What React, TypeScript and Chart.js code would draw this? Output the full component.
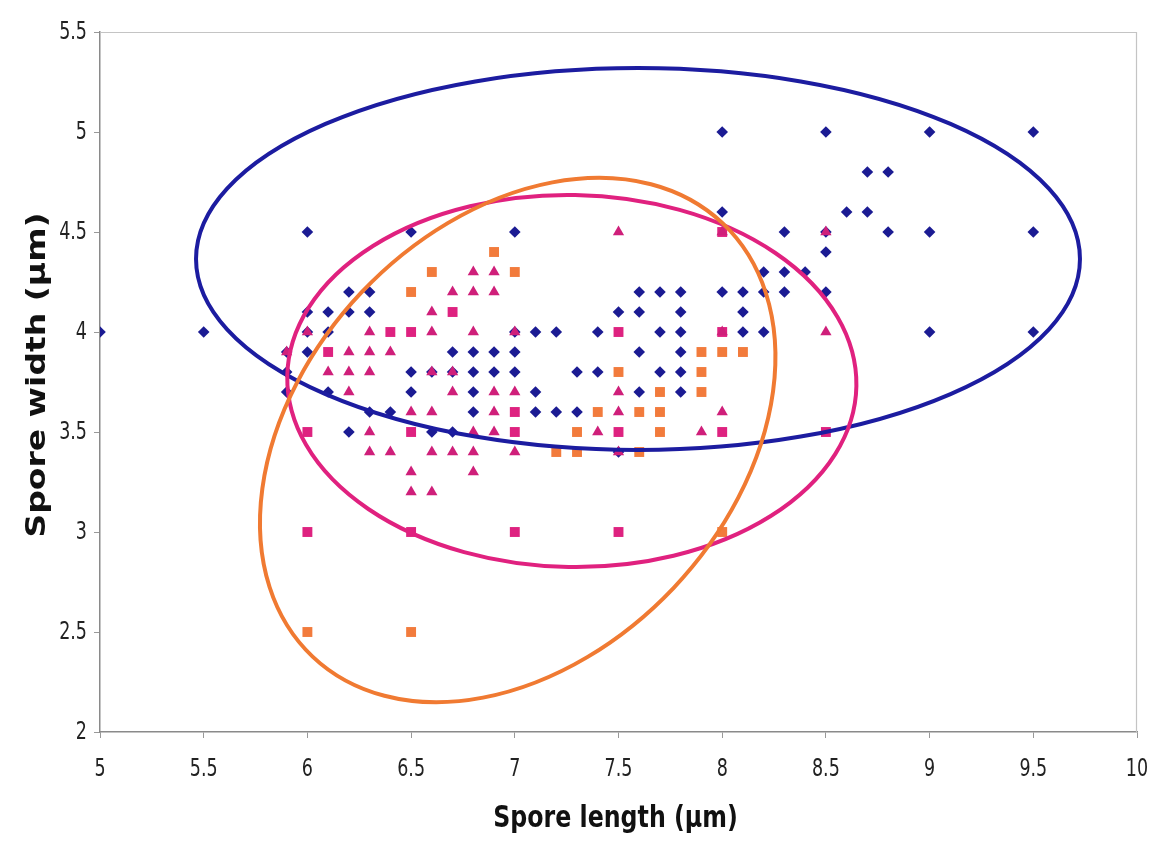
import React, { useEffect, useRef } from "react";
import { Chart, registerables } from "chart.js";

Chart.register(...registerables);

// ---- axis definitions ----
const xTickValues = [5, 5.5, 6, 6.5, 7, 7.5, 8, 8.5, 9, 9.5, 10];
const yTickValues = [2, 2.5, 3, 3.5, 4, 4.5, 5, 5.5];
const xTitle = "Spore length (\u03bcm)";
const yTitle = "Spore width (\u03bcm)";

// ---- series (x = length, y = width) ----
const blueDiamonds = [
  [5, 4], [5.5, 4], [6, 4.5], [6.5, 4.5], [7, 4.5],
  [6.2, 4.2], [6.3, 4.2], [6, 4.1], [6.1, 4.1], [6.2, 4.1], [6.3, 4.1],
  [6, 4], [6.1, 4], [5.9, 3.9], [6, 3.9], [5.9, 3.8], [5.9, 3.7], [6.1, 3.7],
  [6.3, 3.6], [6.4, 3.6], [6.2, 3.5],
  [7.6, 4.2], [7.7, 4.2], [7.8, 4.2], [8, 4.2], [7.5, 4.1], [7.6, 4.1], [7.8, 4.1],
  [7, 4], [7.1, 4], [7.2, 4], [7.4, 4], [7.7, 4], [7.8, 4],
  [6.7, 3.9], [6.8, 3.9], [6.9, 3.9], [7, 3.9], [7.6, 3.9], [7.8, 3.9],
  [6.5, 3.8], [6.6, 3.8], [6.7, 3.8], [6.8, 3.8], [6.9, 3.8], [7, 3.8], [7.3, 3.8], [7.4, 3.8], [7.7, 3.8], [7.8, 3.8],
  [6.5, 3.7], [6.8, 3.7], [7.1, 3.7], [7.6, 3.7], [7.8, 3.7],
  [6.8, 3.6], [7.1, 3.6], [7.2, 3.6], [7.3, 3.6],
  [6.6, 3.5], [6.7, 3.5], [7.5, 3.4],
  [8, 5], [8.5, 5], [9, 5], [9.5, 5], [8.7, 4.8], [8.8, 4.8],
  [8, 4.6], [8.6, 4.6], [8.7, 4.6],
  [8.3, 4.5], [8.5, 4.5], [8.8, 4.5], [9, 4.5], [9.5, 4.5], [8.5, 4.4],
  [8.2, 4.3], [8.3, 4.3], [8.4, 4.3],
  [8.1, 4.2], [8.2, 4.2], [8.3, 4.2], [8.5, 4.2], [8.1, 4.1],
  [8.1, 4], [8.2, 4], [9, 4], [9.5, 4],
];

const pinkTriangles = [
  [6, 4], [6.3, 4], [5.9, 3.9], [6.2, 3.9], [6.3, 3.9], [6.4, 3.9],
  [6.1, 3.8], [6.2, 3.8], [6.3, 3.8], [6.2, 3.7], [6.5, 3.6],
  [6.3, 3.5], [6.3, 3.4], [6.4, 3.4],
  [7.5, 4.5], [8, 4.5], [8.5, 4.5], [6.8, 4.3], [6.9, 4.3],
  [6.7, 4.2], [6.8, 4.2], [6.9, 4.2], [6.6, 4.1],
  [6.6, 4], [6.8, 4], [7, 4], [8, 4], [8.5, 4],
  [6.6, 3.8], [6.7, 3.8], [6.7, 3.7], [6.9, 3.7], [7, 3.7], [7.5, 3.7],
  [6.6, 3.6], [6.9, 3.6], [7.5, 3.6], [8, 3.6],
  [6.8, 3.5], [6.9, 3.5], [7.4, 3.5], [7.9, 3.5],
  [6.6, 3.4], [6.7, 3.4], [6.8, 3.4], [7, 3.4], [7.5, 3.4],
  [6.5, 3.3], [6.8, 3.3], [6.5, 3.2], [6.6, 3.2],
];

const pinkSquares = [
  [6.1, 3.9], [6.4, 4], [6.5, 4], [6, 3.5], [6.5, 3.5], [6.7, 4.1],
  [7, 3.6], [7, 3.5], [7.5, 4], [7.5, 3.5], [8, 3.5], [8.5, 3.5],
  [6, 3], [6.5, 3], [7, 3], [7.5, 3], [8, 4.5], [8, 4],
];

const orangeSquares = [
  [6.9, 4.4], [6.6, 4.3], [7, 4.3], [6.5, 4.2],
  [7.9, 3.9], [8, 3.9], [8.1, 3.9], [7.5, 3.8], [7.9, 3.8],
  [7.7, 3.7], [7.9, 3.7], [7.4, 3.6], [7.6, 3.6], [7.7, 3.6],
  [7.3, 3.5], [7.7, 3.5], [7.2, 3.4], [7.3, 3.4], [7.6, 3.4],
  [8, 3], [6, 2.5], [6.5, 2.5],
];

// ---- ellipses: centre, end of major semi-axis, end of minor semi-axis (data units) ----
const ellipseCenters = [[7.594, 4.365], [7.275, 3.755], [7.014, 3.46]];
const ellipseMajorEnds = [[9.725, 4.365], [8.647, 3.73], [8.003, 4.543]];
const ellipseMinorEnds = [[7.594, 5.32], [7.26, 4.685], [6.261, 4.198]];

// ---- styles ----
const ellipseColors = ["#1c1ca0", "#e0217f", "#f07a32"];
const BLUE = "#1b1b93";
const PINK_TRI = "#cf1f7a";
const PINK_SQ = "#de2280";
const ORANGE = "#f27b3c";
const FONT = "'DejaVu Sans', Verdana, sans-serif";

const toPts = (arr: number[][]) => arr.map(([x, y]) => ({ x, y }));

const decorPlugin = {
  id: "decor",
  beforeDatasetsDraw(chart: any) {
    const { ctx, chartArea: a } = chart;
    ctx.save();
    ctx.strokeStyle = "#c4c4c4";
    ctx.lineWidth = 1.2;
    ctx.beginPath();
    ctx.moveTo(a.left, a.top + 0.5);
    ctx.lineTo(a.right - 0.5, a.top + 0.5);
    ctx.lineTo(a.right - 0.5, a.bottom);
    ctx.stroke();
    ctx.restore();
  },
  afterDatasetsDraw(chart: any) {
    const { ctx, chartArea: a, scales } = chart;
    const xs = scales.x;
    const ys = scales.y;
    ctx.save();
    ctx.beginPath();
    ctx.rect(a.left, a.top, a.right - a.left, a.bottom - a.top);
    ctx.clip();
    ellipseCenters.forEach((c, i) => {
      const cx = xs.getPixelForValue(c[0]);
      const cy = ys.getPixelForValue(c[1]);
      const mx = xs.getPixelForValue(ellipseMajorEnds[i][0]);
      const my = ys.getPixelForValue(ellipseMajorEnds[i][1]);
      const nx = xs.getPixelForValue(ellipseMinorEnds[i][0]);
      const ny = ys.getPixelForValue(ellipseMinorEnds[i][1]);
      const rot = Math.atan2(my - cy, mx - cx);
      const r1 = Math.hypot(mx - cx, my - cy);
      const r2 = Math.hypot(nx - cx, ny - cy);
      ctx.beginPath();
      ctx.ellipse(cx, cy, r1, r2, rot, 0, Math.PI * 2);
      ctx.strokeStyle = ellipseColors[i];
      ctx.lineWidth = 4;
      ctx.stroke();
    });
    ctx.restore();
  },
  afterDraw(chart: any) {
    const { ctx, chartArea: a, scales } = chart;
    const xs = scales.x;
    const ys = scales.y;
    ctx.save();
    // tick labels (condensed, as in the reference)
    ctx.fillStyle = "#222";
    ctx.font = "25px " + FONT;
    ctx.textBaseline = "middle";
    ctx.textAlign = "center";
    xTickValues.forEach((v) => {
      ctx.save();
      ctx.translate(xs.getPixelForValue(v), a.bottom + 37);
      ctx.scale(0.7, 1);
      ctx.fillText(String(v), 0, 0);
      ctx.restore();
    });
    ctx.textAlign = "right";
    yTickValues.forEach((v) => {
      ctx.save();
      ctx.translate(a.left - 13, ys.getPixelForValue(v));
      ctx.scale(0.7, 1);
      ctx.fillText(String(v), 0, 0);
      ctx.restore();
    });
    // axis titles
    ctx.fillStyle = "#111";
    ctx.textAlign = "center";
    ctx.textBaseline = "alphabetic";
    ctx.save();
    ctx.font = "bold 30px " + FONT;
    ctx.translate((a.left + a.right) / 2 - 3, 827);
    ctx.scale(0.79, 1);
    ctx.fillText(xTitle, 0, 0);
    ctx.restore();
    ctx.save();
    ctx.font = "bold 33px " + FONT;
    ctx.translate(45, 375);
    ctx.scale(0.79, 1);
    ctx.rotate(-Math.PI / 2);
    ctx.fillText(yTitle, 0, 0);
    ctx.restore();
    ctx.restore();
  },
};

export default function App() {
  const ref = useRef<HTMLCanvasElement | null>(null);

  useEffect(() => {
    if (!ref.current) return;
    const chart = new Chart(ref.current, {
      type: "scatter",
      data: {
        datasets: [
          {
            label: "triangles",
            data: toPts(pinkTriangles),
            pointStyle: "triangle",
            pointRadius: 6.5,
            pointBackgroundColor: PINK_TRI,
            pointBorderColor: PINK_TRI,
            pointBorderWidth: 0,
            order: 0,
          },
          {
            label: "pink squares",
            data: toPts(pinkSquares),
            pointStyle: "rect",
            pointRadius: 7,
            pointBackgroundColor: PINK_SQ,
            pointBorderColor: PINK_SQ,
            pointBorderWidth: 0,
            order: 1,
          },
          {
            label: "diamonds",
            data: toPts(blueDiamonds),
            pointStyle: "rectRot",
            pointRadius: 5.8,
            pointBackgroundColor: BLUE,
            pointBorderColor: BLUE,
            pointBorderWidth: 0,
            order: 2,
          },
          {
            label: "orange squares",
            data: toPts(orangeSquares),
            pointStyle: "rect",
            pointRadius: 7,
            pointBackgroundColor: ORANGE,
            pointBorderColor: ORANGE,
            pointBorderWidth: 0,
            order: 3,
          },
        ],
      },
      options: {
        animation: false,
        responsive: false,
        devicePixelRatio: 1,
        layout: { padding: { left: 0, top: 32, right: 21, bottom: 0 } },
        plugins: { legend: { display: false }, tooltip: { enabled: false }, title: { display: false } },
        scales: {
          x: {
            type: "linear",
            min: xTickValues[0],
            max: xTickValues[xTickValues.length - 1],
            afterBuildTicks: (s: any) => {
              s.ticks = xTickValues.map((v) => ({ value: v }));
            },
            afterFit: (s: any) => {
              s.height = 124;
            },
            grid: { drawOnChartArea: false, tickLength: 6, color: "#999", lineWidth: 1 },
            border: { display: true, color: "#8a8a8a", width: 1.5 },
            ticks: { display: false, autoSkip: false },
            title: { display: false },
          },
          y: {
            type: "linear",
            min: yTickValues[0],
            max: yTickValues[yTickValues.length - 1],
            afterBuildTicks: (s: any) => {
              s.ticks = yTickValues.map((v) => ({ value: v }));
            },
            afterFit: (s: any) => {
              s.width = 100;
            },
            grid: { drawOnChartArea: false, tickLength: 6, color: "#999", lineWidth: 1 },
            border: { display: true, color: "#8a8a8a", width: 1.5 },
            ticks: { display: false, autoSkip: false },
            title: { display: false },
          },
        },
      },
      plugins: [decorPlugin],
    });
    return () => chart.destroy();
  }, []);

  return (
    <div style={{ position: "fixed", left: 0, top: 0, width: 1158, height: 856, background: "#fff" }}>
      <canvas ref={ref} width={1158} height={856} style={{ width: 1158, height: 856, display: "block" }} />
    </div>
  );
}
